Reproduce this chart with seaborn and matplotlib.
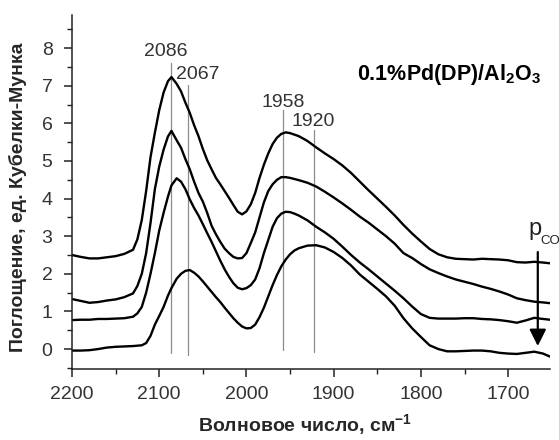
import numpy as np
import pandas as pd
import matplotlib
matplotlib.use("Agg")
import matplotlib.pyplot as plt
from matplotlib.ticker import MultipleLocator
import seaborn as sns

# ---------------- data ----------------
wavenumber = [2200, 2190, 2180, 2170, 2160, 2150, 2140, 2130, 2125, 2120, 2115, 2110,
              2105, 2100, 2095, 2090, 2086, 2080, 2075, 2070, 2065, 2060, 2055, 2050,
              2045, 2040, 2035, 2030, 2025, 2020, 2015, 2010, 2005, 2000, 1995, 1990,
              1985, 1980, 1975, 1970, 1965, 1960, 1955, 1950, 1945, 1940, 1930, 1920,
              1910, 1900, 1890, 1880, 1870, 1860, 1850, 1840, 1830, 1820, 1810, 1800,
              1790, 1780, 1770, 1760, 1750, 1740, 1730, 1720, 1710, 1700, 1690, 1680,
              1670, 1660, 1652]

curve_1 = [2.50, 2.45, 2.41, 2.41, 2.44, 2.47, 2.53, 2.64, 2.92, 3.43, 4.20, 5.10,
           5.75, 6.35, 6.82, 7.12, 7.23, 7.05, 6.85, 6.55, 6.28, 5.95, 5.66, 5.32,
           5.02, 4.78, 4.55, 4.38, 4.20, 4.02, 3.83, 3.65, 3.58, 3.66, 3.85, 4.15,
           4.55, 4.90, 5.20, 5.45, 5.62, 5.72, 5.76, 5.74, 5.70, 5.66, 5.53, 5.36,
           5.20, 5.05, 4.88, 4.68, 4.45, 4.22, 4.00, 3.78, 3.55, 3.30, 3.07, 2.86,
           2.66, 2.52, 2.44, 2.40, 2.39, 2.38, 2.40, 2.39, 2.38, 2.36, 2.31, 2.30,
           2.32, 2.30, 2.28]

curve_2 = [1.33, 1.28, 1.23, 1.25, 1.29, 1.32, 1.38, 1.48, 1.68, 2.00, 2.55, 3.35,
           4.25, 4.85, 5.30, 5.65, 5.80, 5.55, 5.35, 5.05, 4.78, 4.45, 4.15, 3.92,
           3.62, 3.28, 3.05, 2.85, 2.67, 2.55, 2.45, 2.41, 2.42, 2.55, 2.82, 3.10,
           3.50, 3.90, 4.20, 4.38, 4.50, 4.57, 4.57, 4.55, 4.52, 4.49, 4.42, 4.32,
           4.18, 4.03, 3.87, 3.70, 3.52, 3.36, 3.18, 3.00, 2.80, 2.55, 2.42, 2.26,
           2.12, 2.02, 1.93, 1.85, 1.79, 1.73, 1.66, 1.60, 1.53, 1.45, 1.35, 1.30,
           1.26, 1.24, 1.22]

curve_3 = [0.77, 0.78, 0.78, 0.80, 0.80, 0.81, 0.82, 0.86, 0.95, 1.12, 1.50, 2.00,
           2.55, 3.15, 3.62, 4.05, 4.35, 4.54, 4.45, 4.25, 3.98, 3.75, 3.55, 3.32,
           3.08, 2.85, 2.60, 2.35, 2.12, 1.92, 1.75, 1.63, 1.59, 1.62, 1.70, 1.85,
           2.15, 2.55, 2.90, 3.25, 3.48, 3.60, 3.65, 3.64, 3.60, 3.55, 3.42, 3.25,
           3.10, 2.93, 2.72, 2.50, 2.30, 2.12, 1.93, 1.74, 1.55, 1.35, 1.13, 0.93,
           0.83, 0.81, 0.81, 0.81, 0.82, 0.82, 0.80, 0.79, 0.77, 0.74, 0.70, 0.76,
           0.83, 0.80, 0.78]

curve_4 = [-0.04, -0.04, -0.03, 0.00, 0.04, 0.06, 0.07, 0.08, 0.09, 0.10, 0.16, 0.35,
           0.65, 0.88, 1.12, 1.42, 1.62, 1.87, 2.00, 2.08, 2.10, 2.03, 1.93, 1.80,
           1.66, 1.52, 1.38, 1.25, 1.10, 0.96, 0.82, 0.70, 0.60, 0.55, 0.56, 0.65,
           0.85, 1.10, 1.40, 1.70, 1.97, 2.20, 2.38, 2.52, 2.62, 2.68, 2.75, 2.76,
           2.70, 2.58, 2.42, 2.22, 1.98, 1.79, 1.60, 1.40, 1.15, 0.82, 0.55, 0.32,
           0.10, 0.00, -0.06, -0.06, -0.05, -0.04, -0.04, -0.06, -0.10, -0.12, -0.13, -0.10,
           -0.07, -0.12, -0.20]

peak_labels = ["2086", "2067", "1958", "1920"]
peak_lines = [2086, 2067, 1958, 1923]
peak_line_top = [7.6, 7.02, 6.36, 5.82]
peak_line_bottom = [-0.10, -0.16, -0.03, -0.07]

# ---------------- style ----------------
sns.set_style("ticks")
plt.rcParams["font.family"] = ["Liberation Sans", "DejaVu Sans"]
plt.rcParams["mathtext.fontset"] = "custom"
plt.rcParams["mathtext.rm"] = "Liberation Sans"
plt.rcParams["mathtext.bf"] = "Liberation Sans:bold"
plt.rcParams["mathtext.it"] = "Liberation Sans:italic"

fig = plt.figure(figsize=(5.59, 4.40), dpi=100)
ax = fig.add_axes([72 / 559, 71 / 440, 478 / 559, 354 / 440])

frames = []
for name, vals in [("c1", curve_1), ("c2", curve_2), ("c3", curve_3), ("c4", curve_4)]:
    frames.append(pd.DataFrame({"wn": wavenumber, "val": vals, "curve": name}))
df = pd.concat(frames, ignore_index=True)

sns.lineplot(data=df, x="wn", y="val", units="curve", estimator=None,
             color="black", lw=1.7, sort=False, ax=ax, legend=False)

# peak markers
for xv, lo, hi in zip(peak_lines, peak_line_bottom, peak_line_top):
    ax.plot([xv, xv], [lo, hi], color="#8c8c8c", lw=0.9, zorder=1)

label_pos = [(2092, 7.9), (2056, 7.29), (1958, 6.56), (1924, 6.06)]
for txt, (xv, yv) in zip(peak_labels, label_pos):
    ax.text(xv, yv, txt, ha="center", va="center", fontsize=14, color="#333333")

# sample name
ax.text(1873, 7.29, r"0.1%Pd(DP)/Al$_\mathbf{2}$O$_\mathbf{3}$", ha="left", va="center",
        fontsize=15.5, fontweight="bold", color="black")

# pressure arrow
ax.annotate("", xy=(1666, 0.08), xytext=(1666, 2.58),
            arrowprops=dict(arrowstyle="-|>,head_length=0.5,head_width=0.25",
                            color="black", lw=1.6, mutation_scale=20,
                            shrinkA=0, shrinkB=0))
ax.text(1677, 3.03, "p", ha="left", va="baseline", fontsize=17, color="#222222")
ax.text(1663, 2.80, "CO", ha="left", va="baseline", fontsize=9.5, color="#222222")

# axes
ax.set_xlim(2200, 1652)
ax.set_ylim(-0.53, 8.88)
ax.xaxis.set_major_locator(MultipleLocator(100))
ax.xaxis.set_minor_locator(MultipleLocator(50))
ax.yaxis.set_major_locator(MultipleLocator(1))
ax.yaxis.set_minor_locator(MultipleLocator(0.5))
ax.tick_params(which="major", direction="out", length=6, width=1.1, labelsize=14,
               labelcolor="#333333", color="#222222", pad=6)
ax.tick_params(axis="y", which="major", pad=8)
ax.tick_params(which="minor", direction="out", length=3.5, width=1.0, color="#222222")
sns.despine(ax=ax)
for s in ["left", "bottom"]:
    ax.spines[s].set_linewidth(1.1)
    ax.spines[s].set_color("#222222")

ax.set_xlabel(r"Волновое число, см$^{\mathbf{-1}}$", fontsize=14, fontweight="bold")
ax.set_ylabel("Поглощение, ед. Кубелки-Мунка", fontsize=14, fontweight="bold")
ax.xaxis.set_label_coords(0.487, -0.122)
ax.yaxis.set_label_coords(-0.094, 0.486)

fig.savefig("out.png", dpi=100)
